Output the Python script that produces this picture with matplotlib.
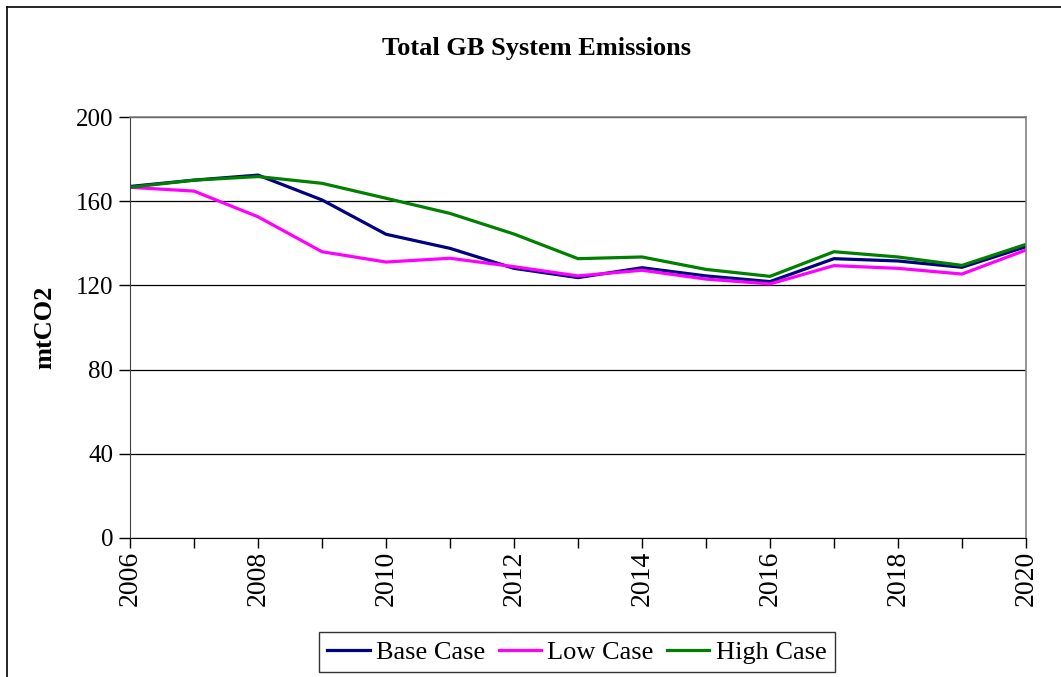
import matplotlib
matplotlib.use("Agg")
import matplotlib.pyplot as plt
from matplotlib.lines import Line2D

plt.rcParams['font.family'] = ['Liberation Serif', 'DejaVu Serif']

years = list(range(2006, 2021))
base_case = [167, 170, 172.4, 160.6, 144.3, 137.6, 128.1, 123.7, 128.4, 124.5, 121.8, 132.7, 131.6, 128.6, 138.4]
low_case = [166.6, 164.8, 152.6, 136, 131.1, 132.9, 128.9, 124.5, 127.2, 123, 120.7, 129.4, 128.1, 125.4, 136.8]
high_case = [166.6, 170, 171.7, 168.5, 161.4, 154.2, 144.4, 132.7, 133.5, 127.6, 124.3, 136, 133.5, 129.5, 139.5]
y_ticks = [0, 40, 80, 120, 160, 200]

fig = plt.figure(figsize=(10.61, 6.77), dpi=100)
ax = fig.add_axes([130/1061, 1-538/677, 896/1061, 421/677])

ax.plot(years, base_case, color='#000080', lw=2.3, label='Base Case')
ax.plot(years, low_case, color='#FF00FF', lw=2.3, label='Low Case')
ax.plot(years, high_case, color='#008000', lw=2.3, label='High Case')

ax.set_xlim(2006, 2020)
ax.set_ylim(0, 200)
ax.set_yticks(y_ticks)
ax.set_yticklabels([str(v) for v in y_ticks], fontsize=18)
ax.set_xticks(years)
ax.set_xticklabels([str(y) if y % 2 == 0 else '' for y in years], rotation=90, fontsize=20)
ax.tick_params(direction='out', length=7, width=1, color='black', pad=2)
ax.tick_params(axis='y', length=8, pad=4)
ax.yaxis.grid(True, color='black', lw=0.9)
ax.set_axisbelow(True)

for s in ['top', 'right']:
    ax.spines[s].set_color('#808080')
    ax.spines[s].set_linewidth(1.2)
ax.spines['left'].set_color('#404040')
ax.spines['bottom'].set_color('black')

ax.set_ylabel('mtCO2', fontsize=19, fontweight='bold', labelpad=14)
fig.text(536/1061, 1-48/677, 'Total GB System Emissions', fontsize=19, fontweight='bold',
         ha='center', va='center')

leg = fig.legend(loc='center', bbox_to_anchor=(577/1061, 1-652/677), ncol=3, fontsize=19,
                 frameon=True, fancybox=False, edgecolor='black', handlelength=1.6,
                 handletextpad=0.25, columnspacing=0.5, borderpad=0.3)
leg.get_frame().set_linewidth(1)

# outer chart border (left and top only visible)
fig.add_artist(Line2D([7/1061, 7/1061], [0, 1-7/677], color='black', lw=1.2, transform=fig.transFigure))
fig.add_artist(Line2D([7/1061, 1], [1-7/677, 1-7/677], color='black', lw=1.2, transform=fig.transFigure))

fig.savefig('out.png', dpi=100)
